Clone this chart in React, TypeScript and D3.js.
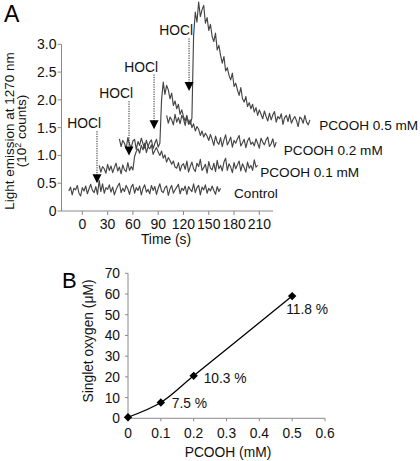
import React from "react";
import * as d3 from "d3";

// ---------- Panel A data ----------
const TRACE_STEP = 2; // seconds between samples
const traceNames = ["PCOOH 0.5 mM", "PCOOH 0.2 mM", "PCOOH 0.1 mM", "Control"];
const traceStarts = [100, 44, 20, -16];

const pc05 = [
  1.72, 1.58, 1.69, 1.64, 1.55, 1.74, 1.60, 1.68, 1.57, 1.72, 1.66, 1.54, 1.69, 1.61, 1.56, 1.67,
  3.15, 3.58, 3.40, 3.76, 3.50, 3.62, 3.70, 3.38, 3.48, 3.25, 3.36, 3.14, 3.05, 3.20, 2.90, 2.98,
  2.80, 2.66, 2.78, 2.52, 2.58, 2.44, 2.36, 2.48, 2.24, 2.30, 2.18, 2.08, 2.22, 2.02, 1.96, 2.06,
  1.88, 1.95, 1.84, 1.92, 1.78, 1.86, 1.72, 1.82,
  1.74, 1.66, 1.80, 1.70, 1.62, 1.76, 1.64, 1.73, 1.79, 1.60,
  1.70, 1.66, 1.75, 1.56, 1.68, 1.72, 1.61, 1.74, 1.58, 1.65,
  1.70, 1.63, 1.52, 1.69, 1.66, 1.58, 1.72, 1.60, 1.55, 1.64,
];

const pc02 = [
  1.30, 1.16, 1.27, 1.22, 1.12, 1.32, 1.20, 1.14, 1.26, 1.29, 1.11, 1.25, 1.18, 1.31, 1.21, 1.13,
  1.27, 1.16, 1.24, 1.28, 1.12, 1.22, 1.29, 1.15, 1.22,
  2.00, 2.32, 2.10, 2.26, 2.18, 2.02, 2.12, 1.90, 1.98, 1.84, 1.92, 1.74, 1.82, 1.70, 1.62, 1.72,
  1.56, 1.64, 1.50, 1.57, 1.44, 1.52, 1.47, 1.36, 1.44, 1.33, 1.40, 1.35, 1.27, 1.38,
  1.29, 1.18, 1.35, 1.24, 1.20, 1.32, 1.16, 1.28, 1.37, 1.19,
  1.25, 1.33, 1.15, 1.27, 1.22, 1.30, 1.36, 1.17, 1.23, 1.29,
  1.14, 1.26, 1.32, 1.20, 1.24, 1.17, 1.30, 1.22, 1.13, 1.31,
  1.24, 1.19, 1.28, 1.33, 1.16, 1.21, 1.30, 1.15, 1.24,
];

const pc01 = [
  0.82, 0.70, 0.80, 0.76, 0.68, 0.84, 0.73, 0.81, 0.69, 0.78, 0.86, 0.72, 0.79, 0.67, 0.83, 0.74,
  0.71, 0.87, 0.73, 0.80, 0.74,
  0.98, 1.07, 1.12, 1.04, 1.18, 1.10, 1.22, 1.05, 1.16, 1.12, 1.19, 1.02, 1.09, 1.14, 1.06,
  1.00, 1.08, 0.95, 1.01, 0.88, 0.96, 0.91, 0.84, 0.90, 0.79,
  0.77, 0.87, 0.72, 0.82, 0.85, 0.75, 0.90, 0.70, 0.80, 0.88,
  0.76, 0.71, 0.86, 0.80, 0.93, 0.73, 0.78, 0.84, 0.68, 0.89,
  0.77, 0.74, 0.86, 0.71, 0.91, 0.76, 0.82, 0.72, 0.88, 0.95,
  0.73, 0.85, 0.79, 0.69, 0.87, 0.76, 0.83, 0.90, 0.72, 0.85,
  0.78, 0.70, 0.88, 0.77, 0.82, 0.73, 0.92, 0.79, 0.82,
];

const control = [
  0.36, 0.43, 0.29, 0.41, 0.38, 0.46, 0.32, 0.27, 0.42, 0.36,
  0.45, 0.31, 0.40, 0.48, 0.37, 0.33, 0.44, 0.30, 0.55, 0.35,
  0.49, 0.32, 0.42, 0.39, 0.47, 0.34, 0.43, 0.29, 0.38, 0.45,
  0.50, 0.33, 0.41, 0.35, 0.46, 0.40, 0.30, 0.43, 0.48, 0.32,
  0.42, 0.37, 0.45, 0.29, 0.41, 0.47, 0.34, 0.39, 0.31, 0.46,
  0.37, 0.44, 0.30, 0.41, 0.49, 0.36, 0.33, 0.42, 0.45, 0.28,
  0.40, 0.46, 0.32, 0.38, 0.43, 0.48, 0.31, 0.41, 0.37, 0.45,
  0.30, 0.44, 0.39, 0.35, 0.49, 0.33, 0.42, 0.46, 0.29, 0.43,
  0.38, 0.47, 0.32, 0.41, 0.36, 0.45, 0.37, 0.30, 0.44, 0.35, 0.41,
];

const traces = [pc05, pc02, pc01, control];
const traceLabelTimes = [281, 239, 211, 180];
const traceLabelValues = [1.55, 1.1, 0.7, 0.32];

const hoclTimes = [17.4, 55.4, 85.1, 126.6];
const hoclTipValues = [0.5, 1.0, 1.47, 2.16];
const hoclLabelValues = [1.49, 2.03, 2.51, 3.16];

const timeTicks = [0, 30, 60, 90, 120, 150, 180, 210];
const emissionTicks = [0, 0.5, 1.0, 1.5, 2.0, 2.5, 3.0];

// ---------- Panel B data ----------
const pcoohConc = [0, 0.1, 0.2, 0.5];
const singletOxygen = [0.5, 7.6, 20.5, 59];
const yieldLabels = ["", "7.5 %", "10.3 %", "11.8 %"];
const concTicks = [0, 0.1, 0.2, 0.3, 0.4, 0.5, 0.6];
const oxygenTicks = [0, 10, 20, 30, 40, 50, 60, 70];

const FONT = "'Liberation Sans', Arial, Helvetica, sans-serif";
const AXIS = "#8a8a8a";
const TRACE = "#454545";

export default function App() {
  // Panel A scales
  const xA = d3.scaleLinear().domain([-24.7, 226.2]).range([61.5, 273]);
  const yA = d3.scaleLinear().domain([0, 3]).range([211, 44.3]);

  const tracePath = (vals: number[], start: number) =>
    d3
      .line<number>()
      .x((_, i) => xA(start + i * TRACE_STEP))
      .y((d) => yA(d))(vals) as string;

  // Panel B scales
  const xB = d3.scaleLinear().domain([0, 0.6]).range([128, 325]);
  const yB = d3.scaleLinear().domain([0, 70]).range([418.3, 273.3]);
  const lineB = d3
    .line<number>()
    .x((_, i) => xB(pcoohConc[i]))
    .y((d) => yB(d))
    .curve(d3.curveCatmullRom.alpha(0.5));

  const fmtA = (v: number) => (v === 0 ? "0" : v.toFixed(1));
  const fmtB = (v: number) => (v === 0 ? "0" : String(v));

  const labelOffsets = [
    [0, 0],
    [11, 5],
    [10, 7],
    [-6, 18],
  ];

  return (
    <svg
      width={420}
      height={461}
      style={{ position: "absolute", left: 0, top: 0, background: "#fff" }}
      fontFamily={FONT}
    >
      <rect x={0} y={0} width={420} height={461} fill="#fff" />
      {/* ---------- Panel A ---------- */}
      <text x={4} y={22} fontSize={23} fill="#000">
        A
      </text>

      {/* axes */}
      <line x1={xA.range()[0]} x2={xA.range()[0]} y1={yA(0)} y2={yA(3)} stroke={AXIS} strokeWidth={1} />
      <line x1={xA.range()[0]} x2={xA.range()[1]} y1={yA(0)} y2={yA(0)} stroke={AXIS} strokeWidth={1} />
      {emissionTicks.map((t) => (
        <g key={"ya" + t}>
          <line x1={xA.range()[0] - 4} x2={xA.range()[0]} y1={yA(t)} y2={yA(t)} stroke={AXIS} />
          <text x={xA.range()[0] - 5} y={yA(t) + 5} fontSize={14} textAnchor="end" fill="#111">
            {fmtA(t)}
          </text>
        </g>
      ))}
      {timeTicks.map((t) => (
        <g key={"xa" + t}>
          <line x1={xA(t)} x2={xA(t)} y1={yA(0)} y2={yA(0) + 4} stroke={AXIS} />
          <text x={xA(t)} y={229} fontSize={14} textAnchor="middle" fill="#111">
            {t}
          </text>
        </g>
      ))}
      <text x={166} y={244} fontSize={13.8} textAnchor="middle" fill="#111">
        Time (s)
      </text>
      <text transform="translate(13.5,131) rotate(-90)" fontSize={13.5} textAnchor="middle" fill="#111">
        Light emission at 1270 nm
      </text>
      <text transform="translate(26,131) rotate(-90)" fontSize={13.5} textAnchor="middle" fill="#111">
        (10
        <tspan fontSize={9} dy={-5}>
          2
        </tspan>
        <tspan dy={5}> counts)</tspan>
      </text>

      {/* traces */}
      {traces.map((vals, k) => (
        <path
          key={"tr" + k}
          d={tracePath(vals, traceStarts[k])}
          fill="none"
          stroke={TRACE}
          strokeWidth={1.15}
          strokeLinejoin="round"
        />
      ))}
      {traceNames.map((n, k) => (
        <text
          key={"tn" + k}
          x={xA(traceLabelTimes[k])}
          y={yA(traceLabelValues[k]) + 5}
          fontSize={13.6}
          fill="#111"
        >
          {n}
        </text>
      ))}

      {/* HOCl arrows */}
      {hoclTimes.map((t, k) => {
        const x = xA(t);
        const tipY = yA(hoclTipValues[k]);
        const labY = yA(hoclLabelValues[k]);
        return (
          <g key={"h" + k}>
            <text x={x + 4} y={labY} fontSize={13.8} textAnchor="end" fill="#111">
              HOCl
            </text>
            <line
              x1={x}
              x2={x}
              y1={labY + 3}
              y2={tipY - 8}
              stroke="#222"
              strokeWidth={1}
              strokeDasharray="1.2,1.2"
            />
            <path d={`M${x - 4.5},${tipY - 9} L${x + 4.5},${tipY - 9} L${x},${tipY} Z`} fill="#000" />
          </g>
        );
      })}

      {/* ---------- Panel B ---------- */}
      <text x={62} y={288} fontSize={22} fill="#000">
        B
      </text>
      <line x1={xB(0)} x2={xB(0)} y1={yB(0)} y2={yB(70)} stroke={AXIS} />
      <line x1={xB(0)} x2={xB(0.6)} y1={yB(0)} y2={yB(0)} stroke={AXIS} />
      {oxygenTicks.map((t) => (
        <g key={"yb" + t}>
          <line x1={xB(0) - 3} x2={xB(0)} y1={yB(t)} y2={yB(t)} stroke={AXIS} />
          <text x={120} y={yB(t) + 5} fontSize={13.8} textAnchor="end" fill="#111">
            {fmtB(t)}
          </text>
        </g>
      ))}
      {concTicks.map((t) => (
        <g key={"xb" + t}>
          <line x1={xB(t)} x2={xB(t)} y1={yB(0)} y2={yB(0) + 3} stroke={AXIS} />
          <text x={xB(t)} y={438} fontSize={13.8} textAnchor="middle" fill="#111">
            {fmtB(t)}
          </text>
        </g>
      ))}
      <text x={228} y={457} fontSize={13.8} textAnchor="middle" fill="#111">
        PCOOH (mM)
      </text>
      <text transform="translate(93,341) rotate(-90)" fontSize={13.8} textAnchor="middle" fill="#111">
        Singlet oxygen (μM)
      </text>
      <path d={lineB(singletOxygen) as string} fill="none" stroke="#000" strokeWidth={1.3} />
      {singletOxygen.map((v, i) => {
        const cx = xB(pcoohConc[i]);
        const cy = yB(v);
        return (
          <g key={"pt" + i}>
            <path d={`M${cx},${cy - 4.2} L${cx + 4.2},${cy} L${cx},${cy + 4.2} L${cx - 4.2},${cy} Z`} fill="#000" />
            {yieldLabels[i] && (
              <text x={cx + labelOffsets[i][0]} y={cy + labelOffsets[i][1]} fontSize={13.8} fill="#111">
                {yieldLabels[i]}
              </text>
            )}
          </g>
        );
      })}
    </svg>
  );
}
